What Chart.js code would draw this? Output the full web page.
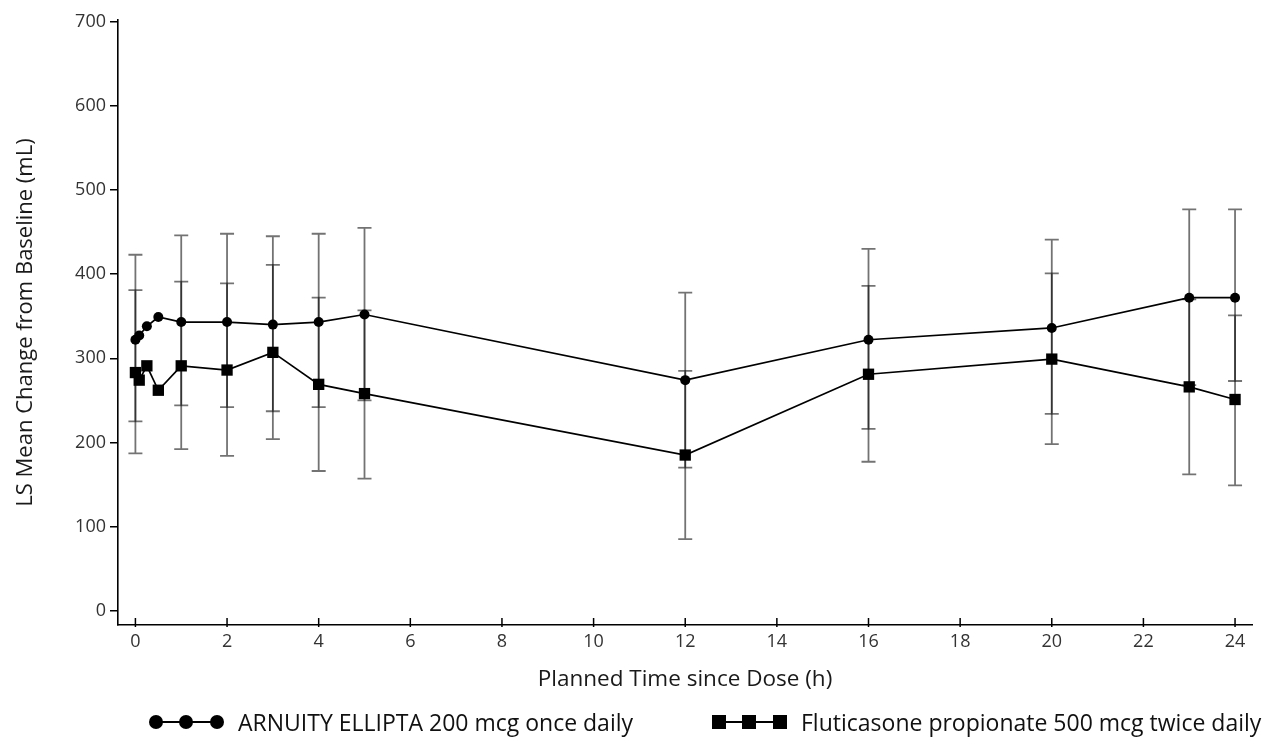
<!DOCTYPE html>
<html>
<head>
<meta charset="utf-8">
<script src="https://cdn.jsdelivr.net/npm/chart.js@4/dist/chart.umd.min.js"></script>
<style>
  html, body { margin: 0; padding: 0; background: #fff; overflow: hidden; }
  #wrap { position: relative; width: 1269px; height: 738px; }
  #chart { position: absolute; left: 0; top: 0; }
  .legend { position: absolute; top: 707px; height: 30px; display: flex; align-items: center;
            font-family: 'Open Sans', 'Noto Sans', sans-serif; font-size: 23px; line-height: 30px; color: #111; white-space: nowrap; }
  .icon { position: relative; width: 75px; height: 16px; margin-right: 14px; }
  .icon::before { content: ''; position: absolute; left: 5px; right: 5px; top: 7px; height: 2px; background: #000; }
  .icon span { position: absolute; top: 1px; width: 14px; height: 14px; background: #000; }
  .circ span { border-radius: 50%; }
</style>
</head>
<body>
<div id="wrap">
  <canvas id="chart" width="1269" height="738"></canvas>
  <div class="legend" style="left:149px">
    <div class="icon circ"><span style="left:0"></span><span style="left:30px"></span><span style="left:61px"></span></div>
    <div>ARNUITY ELLIPTA 200 mcg once daily</div>
  </div>
  <div class="legend" style="left:712px">
    <div class="icon sq"><span style="left:0"></span><span style="left:30px"></span><span style="left:61px"></span></div>
    <div>Fluticasone propionate 500 mcg twice daily</div>
  </div>
</div>
<script>
// planned time points (h)
const times = [0, 0.083, 0.25, 0.5, 1, 2, 3, 4, 5, 12, 16, 20, 23, 24];
const xTicks = [0, 2, 4, 6, 8, 10, 12, 14, 16, 18, 20, 22, 24];
const yTicks = [0, 100, 200, 300, 400, 500, 600, 700];

// ARNUITY ELLIPTA 200 mcg once daily
const arnuityMean = [322, 327, 338, 349, 343, 343, 340, 343, 352, 274, 322, 336, 372, 372];
const arnuityLow  = [225, null, null, null, 244, 242, 237, 242, 250, 170, 216, 234, 268, 273];
const arnuityHigh = [423, null, null, null, 446, 448, 445, 448, 455, 378, 430, 441, 477, 477];

// Fluticasone propionate 500 mcg twice daily
const fpMean = [283, 274, 291, 262, 291, 286, 307, 269, 258, 185, 281, 299, 266, 251];
const fpLow  = [187, null, null, null, 192, 184, 204, 166, 157, 85, 177, 198, 162, 149];
const fpHigh = [381, null, null, null, 391, 389, 411, 372, 357, 285, 386, 401, 370, 351];

const toPoints = (ys) => times.map((t, i) => ({ x: t, y: ys[i] }));

// vertical error bars with caps, under the markers; x tick marks crossing the axis
const errorBars = {
    id: 'errorBars',
    beforeDatasetsDraw(chart) {
        const { ctx, scales: { x, y } } = chart;
        const sets = [[arnuityLow, arnuityHigh], [fpLow, fpHigh]];
        ctx.save();
        ctx.strokeStyle = 'rgba(0,0,0,0.55)';
        ctx.lineWidth = 1.8;
        sets.forEach(([lo, hi]) => {
            times.forEach((t, i) => {
                if (lo[i] == null) return;
                const px = x.getPixelForValue(t);
                const y1 = y.getPixelForValue(lo[i]);
                const y2 = y.getPixelForValue(hi[i]);
                ctx.beginPath();
                ctx.moveTo(px, y1); ctx.lineTo(px, y2);
                ctx.moveTo(px - 7, y1); ctx.lineTo(px + 7, y1);
                ctx.moveTo(px - 7, y2); ctx.lineTo(px + 7, y2);
                ctx.stroke();
            });
        });
        ctx.restore();
    },
    afterDraw(chart) {
        const { ctx, scales: { x } } = chart;
        ctx.save();
        ctx.strokeStyle = '#000';
        ctx.lineWidth = 1.5;
        xTicks.forEach(v => {
            const px = x.getPixelForValue(v);
            ctx.beginPath();
            ctx.moveTo(px, x.top - 7);
            ctx.lineTo(px, x.top + 2);
            ctx.stroke();
        });
        ctx.restore();
    }
};

const family = "'Open Sans', 'Noto Sans', sans-serif";

new Chart(document.getElementById('chart'), {
    type: 'line',
    data: {
        datasets: [{
            label: 'ARNUITY ELLIPTA 200 mcg once daily',
            data: toPoints(arnuityMean),
            borderColor: '#000',
            backgroundColor: '#000',
            borderWidth: 1.7,
            pointStyle: 'circle',
            pointRadius: 5,
            pointBorderWidth: 0,
            tension: 0,
        }, {
            label: 'Fluticasone propionate 500 mcg twice daily',
            data: toPoints(fpMean),
            borderColor: '#000',
            backgroundColor: '#000',
            borderWidth: 1.7,
            pointStyle: 'rect',
            pointRadius: 8,
            pointBorderWidth: 0,
            tension: 0,
        }],
    },
    options: {
        responsive: false,
        animation: false,
        layout: { padding: { top: 20, right: 17, bottom: 0, left: 4 } },
        plugins: {
            legend: { display: false },
            tooltip: { enabled: false },
        },
        scales: {
            x: {
                type: 'linear',
                min: -0.38,
                max: 24.37,
                afterBuildTicks(axis) { axis.ticks = xTicks.map(v => ({ value: v })); },
                afterFit(axis) { axis.height = 113; },
                grid: { display: true, drawOnChartArea: false, drawTicks: false },
                border: { display: true, color: '#000', width: 1.6 },
                ticks: { color: '#333', font: { family, size: 18 }, padding: 6, maxRotation: 0 },
                title: { display: true, text: 'Planned Time since Dose (h)', color: '#1a1a1a',
                         font: { family, size: 22.5 }, padding: { top: 4, bottom: 45 } },
            },
            y: {
                type: 'linear',
                min: -17,
                max: 702,
                afterBuildTicks(axis) { axis.ticks = yTicks.map(v => ({ value: v })); },
                afterFit(axis) { axis.width = 114; },
                grid: { display: true, drawOnChartArea: false, drawTicks: true, tickLength: 8, color: '#000', lineWidth: 1.5 },
                border: { display: true, color: '#000', width: 1.6 },
                ticks: { color: '#333', font: { family, size: 18 }, padding: 4 },
                title: { display: true, text: 'LS Mean Change from Baseline (mL)', color: '#1a1a1a',
                         font: { family, size: 22 }, padding: { top: 9, bottom: 4 } },
            },
        },
    },
    plugins: [errorBars],
});
</script>
</body>
</html>
